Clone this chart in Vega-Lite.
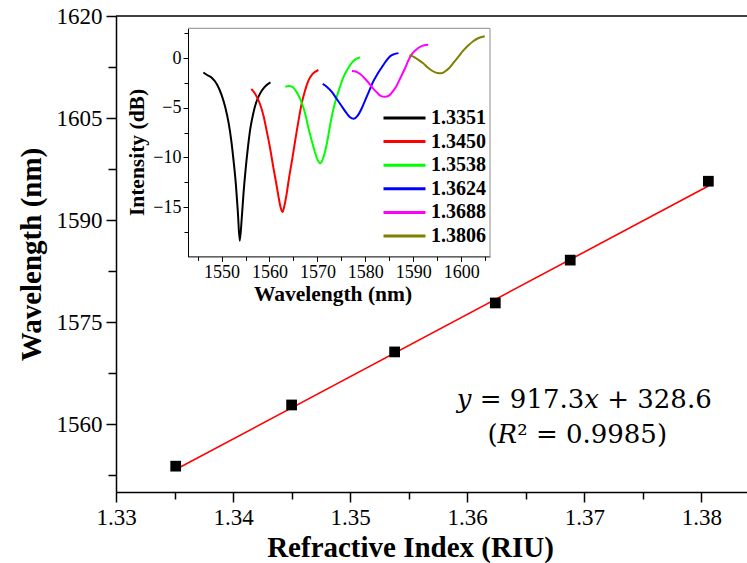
{
  "$schema": "https://vega.github.io/schema/vega-lite/v6.json",
  "width": 631,
  "height": 476,
  "autosize": {"type": "none"},
  "padding": {"left": 116, "top": 16, "right": 0, "bottom": 71},
  "background": "white",
  "config": {
    "view": {"stroke": null},
    "font": "Liberation Serif",
    "axis": {"labelFont": "Liberation Serif", "titleFont": "Liberation Serif"},
    "legend": {"labelFont": "Liberation Serif"}
  },
  "datasets": {
    "points": [
      {"n": 1.3351, "wl": 1553.8},
      {"n": 1.3450, "wl": 1562.8},
      {"n": 1.3538, "wl": 1570.6},
      {"n": 1.3624, "wl": 1577.8},
      {"n": 1.3688, "wl": 1584.1},
      {"n": 1.3806, "wl": 1595.7}
    ],
    "fit": [
      {"n": 1.3351, "wl": 1553.3},
      {"n": 1.3806, "wl": 1595.0}
    ],
    "spectra": [
      {"ri": "1.3351", "lam": 1546.2, "db": -1.45},
      {"ri": "1.3351", "lam": 1547.0, "db": -1.7},
      {"ri": "1.3351", "lam": 1548.0, "db": -2.0},
      {"ri": "1.3351", "lam": 1549.0, "db": -2.6},
      {"ri": "1.3351", "lam": 1550.0, "db": -3.7},
      {"ri": "1.3351", "lam": 1550.8, "db": -5.0},
      {"ri": "1.3351", "lam": 1551.5, "db": -6.6},
      {"ri": "1.3351", "lam": 1552.0, "db": -8.2},
      {"ri": "1.3351", "lam": 1552.5, "db": -10.3},
      {"ri": "1.3351", "lam": 1553.0, "db": -12.8},
      {"ri": "1.3351", "lam": 1553.4, "db": -15.5},
      {"ri": "1.3351", "lam": 1553.8, "db": -18.4},
      {"ri": "1.3351", "lam": 1554.2, "db": -16.2},
      {"ri": "1.3351", "lam": 1554.6, "db": -13.5},
      {"ri": "1.3351", "lam": 1555.0, "db": -11.3},
      {"ri": "1.3351", "lam": 1555.5, "db": -9.0},
      {"ri": "1.3351", "lam": 1556.0, "db": -7.1},
      {"ri": "1.3351", "lam": 1556.6, "db": -5.6},
      {"ri": "1.3351", "lam": 1557.2, "db": -4.5},
      {"ri": "1.3351", "lam": 1558.0, "db": -3.6},
      {"ri": "1.3351", "lam": 1559.0, "db": -2.9},
      {"ri": "1.3351", "lam": 1560.2, "db": -2.45},
      {"ri": "1.3450", "lam": 1556.2, "db": -3.1},
      {"ri": "1.3450", "lam": 1557.0, "db": -3.6},
      {"ri": "1.3450", "lam": 1558.0, "db": -4.6},
      {"ri": "1.3450", "lam": 1558.8, "db": -5.9},
      {"ri": "1.3450", "lam": 1559.4, "db": -7.3},
      {"ri": "1.3450", "lam": 1560.1, "db": -9.0},
      {"ri": "1.3450", "lam": 1560.8, "db": -11.0},
      {"ri": "1.3450", "lam": 1561.4, "db": -12.6},
      {"ri": "1.3450", "lam": 1561.9, "db": -14.0},
      {"ri": "1.3450", "lam": 1562.3, "db": -15.0},
      {"ri": "1.3450", "lam": 1562.7, "db": -15.5},
      {"ri": "1.3450", "lam": 1563.1, "db": -14.9},
      {"ri": "1.3450", "lam": 1563.6, "db": -13.6},
      {"ri": "1.3450", "lam": 1564.1, "db": -12.0},
      {"ri": "1.3450", "lam": 1564.7, "db": -10.3},
      {"ri": "1.3450", "lam": 1565.2, "db": -8.8},
      {"ri": "1.3450", "lam": 1565.7, "db": -7.3},
      {"ri": "1.3450", "lam": 1566.2, "db": -5.9},
      {"ri": "1.3450", "lam": 1566.7, "db": -4.6},
      {"ri": "1.3450", "lam": 1567.4, "db": -3.3},
      {"ri": "1.3450", "lam": 1568.1, "db": -2.3},
      {"ri": "1.3450", "lam": 1569.0, "db": -1.6},
      {"ri": "1.3450", "lam": 1570.2, "db": -1.2},
      {"ri": "1.3538", "lam": 1563.3, "db": -2.9},
      {"ri": "1.3538", "lam": 1564.0, "db": -2.8},
      {"ri": "1.3538", "lam": 1564.8, "db": -2.9},
      {"ri": "1.3538", "lam": 1565.5, "db": -3.3},
      {"ri": "1.3538", "lam": 1566.2, "db": -3.9},
      {"ri": "1.3538", "lam": 1566.8, "db": -4.6},
      {"ri": "1.3538", "lam": 1567.5, "db": -5.7},
      {"ri": "1.3538", "lam": 1568.1, "db": -7.0},
      {"ri": "1.3538", "lam": 1568.8, "db": -8.3},
      {"ri": "1.3538", "lam": 1569.5, "db": -9.5},
      {"ri": "1.3538", "lam": 1570.0, "db": -10.2},
      {"ri": "1.3538", "lam": 1570.6, "db": -10.6},
      {"ri": "1.3538", "lam": 1571.1, "db": -10.2},
      {"ri": "1.3538", "lam": 1571.6, "db": -9.4},
      {"ri": "1.3538", "lam": 1572.2, "db": -8.0},
      {"ri": "1.3538", "lam": 1572.7, "db": -6.6},
      {"ri": "1.3538", "lam": 1573.3, "db": -5.2},
      {"ri": "1.3538", "lam": 1574.0, "db": -3.95},
      {"ri": "1.3538", "lam": 1574.7, "db": -2.9},
      {"ri": "1.3538", "lam": 1575.4, "db": -1.95},
      {"ri": "1.3538", "lam": 1576.3, "db": -1.1},
      {"ri": "1.3538", "lam": 1577.2, "db": -0.45},
      {"ri": "1.3538", "lam": 1578.0, "db": -0.1},
      {"ri": "1.3538", "lam": 1578.9, "db": 0.05},
      {"ri": "1.3624", "lam": 1571.1, "db": -2.6},
      {"ri": "1.3624", "lam": 1572.0, "db": -2.9},
      {"ri": "1.3624", "lam": 1573.0, "db": -3.4},
      {"ri": "1.3624", "lam": 1574.0, "db": -4.1},
      {"ri": "1.3624", "lam": 1575.0, "db": -4.8},
      {"ri": "1.3624", "lam": 1576.0, "db": -5.5},
      {"ri": "1.3624", "lam": 1576.8, "db": -5.95},
      {"ri": "1.3624", "lam": 1577.6, "db": -6.1},
      {"ri": "1.3624", "lam": 1578.4, "db": -5.8},
      {"ri": "1.3624", "lam": 1579.2, "db": -5.1},
      {"ri": "1.3624", "lam": 1580.0, "db": -4.2},
      {"ri": "1.3624", "lam": 1580.8, "db": -3.3},
      {"ri": "1.3624", "lam": 1581.6, "db": -2.4},
      {"ri": "1.3624", "lam": 1582.4, "db": -1.7},
      {"ri": "1.3624", "lam": 1583.4, "db": -0.95},
      {"ri": "1.3624", "lam": 1584.3, "db": -0.3},
      {"ri": "1.3624", "lam": 1585.2, "db": 0.2},
      {"ri": "1.3624", "lam": 1586.0, "db": 0.4},
      {"ri": "1.3624", "lam": 1586.9, "db": 0.5},
      {"ri": "1.3688", "lam": 1577.2, "db": -1.3},
      {"ri": "1.3688", "lam": 1578.0, "db": -1.35},
      {"ri": "1.3688", "lam": 1578.9, "db": -1.6},
      {"ri": "1.3688", "lam": 1579.8, "db": -2.0},
      {"ri": "1.3688", "lam": 1580.7, "db": -2.5},
      {"ri": "1.3688", "lam": 1581.5, "db": -3.0},
      {"ri": "1.3688", "lam": 1582.4, "db": -3.45},
      {"ri": "1.3688", "lam": 1583.2, "db": -3.8},
      {"ri": "1.3688", "lam": 1584.1, "db": -3.9},
      {"ri": "1.3688", "lam": 1585.0, "db": -3.75},
      {"ri": "1.3688", "lam": 1585.8, "db": -3.3},
      {"ri": "1.3688", "lam": 1586.5, "db": -2.8},
      {"ri": "1.3688", "lam": 1587.3, "db": -2.0},
      {"ri": "1.3688", "lam": 1588.3, "db": -1.0},
      {"ri": "1.3688", "lam": 1589.0, "db": -0.2},
      {"ri": "1.3688", "lam": 1589.7, "db": 0.4},
      {"ri": "1.3688", "lam": 1590.6, "db": 0.85},
      {"ri": "1.3688", "lam": 1591.5, "db": 1.15},
      {"ri": "1.3688", "lam": 1592.3, "db": 1.3},
      {"ri": "1.3688", "lam": 1593.1, "db": 1.35},
      {"ri": "1.3806", "lam": 1589.2, "db": 0.3},
      {"ri": "1.3806", "lam": 1590.0, "db": 0.15},
      {"ri": "1.3806", "lam": 1591.0, "db": -0.15},
      {"ri": "1.3806", "lam": 1592.0, "db": -0.5},
      {"ri": "1.3806", "lam": 1593.0, "db": -0.95},
      {"ri": "1.3806", "lam": 1594.0, "db": -1.3},
      {"ri": "1.3806", "lam": 1595.0, "db": -1.5},
      {"ri": "1.3806", "lam": 1595.8, "db": -1.52},
      {"ri": "1.3806", "lam": 1596.6, "db": -1.35},
      {"ri": "1.3806", "lam": 1597.5, "db": -1.0},
      {"ri": "1.3806", "lam": 1598.5, "db": -0.4},
      {"ri": "1.3806", "lam": 1599.5, "db": 0.2},
      {"ri": "1.3806", "lam": 1600.5, "db": 0.8},
      {"ri": "1.3806", "lam": 1601.5, "db": 1.3},
      {"ri": "1.3806", "lam": 1602.5, "db": 1.7},
      {"ri": "1.3806", "lam": 1603.5, "db": 2.0},
      {"ri": "1.3806", "lam": 1604.9, "db": 2.2}
    ]
  },
  "layer": [
    {
      "layer": [
        {
          "data": {"name": "fit"},
          "mark": {"type": "line", "color": "#ff0000", "strokeWidth": 1.6},
          "encoding": {
            "x": {
              "field": "n", "type": "quantitative",
              "scale": {"domain": [1.33, 1.3839], "nice": false, "zero": false},
              "axis": {
                "orient": "bottom",
                "title": "Refractive Index (RIU)",
                "values": [1.33, 1.335, 1.34, 1.345, 1.35, 1.355, 1.36, 1.365, 1.37, 1.375, 1.38],
                "format": ".2f",
                "labelExpr": "round(datum.value*1000) % 10 === 0 ? datum.label : ''",
                "labelFont": "Liberation Serif", "labelFontSize": 23, "labelColor": "black",
                "labelPadding": 4, "labelFlush": false, "labelOverlap": false,
                "tickSize": {"condition": {"test": "round(datum.value*1000) % 10 === 0", "value": 10}, "value": 7},
                "tickColor": "black", "tickWidth": 1.5,
                "domainColor": "black", "domainWidth": 1.5,
                "grid": false,
                "titleFont": "Liberation Serif", "titleFontSize": 29, "titleFontWeight": "bold", "titleColor": "black",
                "titleX": 294, "titlePadding": 4
              }
            },
            "y": {
              "field": "wl", "type": "quantitative",
              "scale": {"domain": [1550, 1620], "nice": false, "zero": false},
              "axis": {
                "orient": "left",
                "title": "Wavelength (nm)",
                "values": [1552.5, 1560, 1567.5, 1575, 1582.5, 1590, 1597.5, 1605, 1612.5, 1620],
                "format": "d",
                "labelExpr": "datum.value % 15 === 0 ? datum.label : ''",
                "labelFont": "Liberation Serif", "labelFontSize": 23, "labelColor": "black",
                "labelPadding": 4, "labelFlush": false, "labelOverlap": false,
                "tickSize": {"condition": {"test": "datum.value % 15 === 0", "value": 10}, "value": 8},
                "tickColor": "black", "tickWidth": 1.5,
                "domainColor": "black", "domainWidth": 1.5,
                "grid": false,
                "titleFont": "Liberation Serif", "titleFontSize": 29, "titleFontWeight": "bold", "titleColor": "black",
                "titlePadding": 10
              }
            }
          }
        },
        {
          "data": {"name": "points"},
          "mark": {"type": "point", "shape": "square", "filled": true, "color": "black", "size": 115, "opacity": 1},
          "encoding": {
            "x": {"field": "n", "type": "quantitative"},
            "y": {"field": "wl", "type": "quantitative"}
          }
        },
        {
          "data": {"values": [{}]},
          "mark": {"type": "rule", "color": "black", "strokeWidth": 1.5},
          "encoding": {
            "x": {"datum": 1.33},
            "x2": {"datum": 1.3839},
            "y": {"datum": 1620}
          }
        },
        {
          "data": {"values": [{}]},
          "mark": {"type": "text", "font": "DejaVu Serif", "fontSize": 26, "color": "black", "align": "center", "baseline": "alphabetic"},
          "encoding": {
            "x": {"datum": 1.370},
            "y": {"datum": 1562.4},
            "text": {"value": "𝑦 = 917.3𝑥 + 328.6"}
          }
        },
        {
          "data": {"values": [{}]},
          "mark": {"type": "text", "font": "DejaVu Serif", "fontSize": 26, "color": "black", "align": "center", "baseline": "alphabetic"},
          "encoding": {
            "x": {"datum": 1.3694},
            "y": {"datum": 1557.2},
            "text": {"value": "(𝑅² = 0.9985)"}
          }
        }
      ]
    },
    {
      "layer": [
        {
          "data": {"name": "spectra"},
          "mark": {"type": "line", "strokeWidth": 2, "interpolate": "monotone"},
          "encoding": {
            "x": {
              "field": "lam", "type": "quantitative",
              "scale": {"domain": [1543, 1606], "range": [72, 374], "nice": false, "zero": false},
              "axis": {
                "orient": "bottom", "offset": -235.6,
                "title": "Wavelength (nm)",
                "values": [1545, 1550, 1555, 1560, 1565, 1570, 1575, 1580, 1585, 1590, 1595, 1600, 1605],
                "format": "d",
                "labelExpr": "datum.value % 10 === 0 ? datum.label : ''",
                "labelFont": "Liberation Serif", "labelFontSize": 18, "labelColor": "black",
                "labelPadding": 2, "labelFlush": false, "labelOverlap": false,
                "tickSize": {"condition": {"test": "datum.value % 10 === 0", "value": 5}, "value": 4},
                "tickColor": "black", "tickWidth": 1,
                "domainColor": "black", "domainWidth": 1,
                "grid": false,
                "titleFont": "Liberation Serif", "titleFontSize": 21.5, "titleFontWeight": "bold", "titleColor": "black",
                "titleX": 216.5, "titlePadding": 2
              }
            },
            "y": {
              "field": "db", "type": "quantitative",
              "scale": {"domain": [-20, 3], "range": [240.7, 12.3], "nice": false, "zero": false},
              "axis": {
                "orient": "left", "offset": -72,
                "title": "Intensity (dB)",
                "values": [-17.5, -15, -12.5, -10, -7.5, -5, -2.5, 0, 2.5],
                "format": "d",
                "labelExpr": "datum.value % 5 === 0 ? datum.label : ''",
                "labelFont": "Liberation Serif", "labelFontSize": 18, "labelColor": "black",
                "labelPadding": 2, "labelFlush": false, "labelOverlap": false,
                "tickSize": {"condition": {"test": "datum.value % 5 === 0", "value": 5}, "value": 4},
                "tickColor": "black", "tickWidth": 1,
                "domainColor": "black", "domainWidth": 1,
                "grid": false,
                "titleFont": "Liberation Serif", "titleFontSize": 21.5, "titleFontWeight": "bold", "titleColor": "black",
                "titleY": 136, "titlePadding": 4
              }
            },
            "color": {
              "field": "ri", "type": "nominal",
              "scale": {
                "domain": ["1.3351", "1.3450", "1.3538", "1.3624", "1.3688", "1.3806"],
                "range": ["#000000", "#ff0000", "#00ff00", "#0000ff", "#ff00ff", "#808000"]
              },
              "legend": {
                "orient": "none", "legendX": 278.5, "legendY": 92,
                "title": null,
                "symbolType": "M-4.2,0H4.2", "symbolSize": 100, "symbolStrokeWidth": 3,
                "labelFont": "Liberation Serif", "labelFontSize": 20, "labelFontWeight": "bold", "labelColor": "black",
                "labelOffset": 16.5, "rowPadding": 3.6, "padding": 0
              }
            }
          }
        },
        {
          "data": {"values": [{}]},
          "mark": {"type": "rule", "color": "#a0a0a0", "strokeWidth": 1.2},
          "encoding": {
            "x": {"datum": 1543},
            "x2": {"datum": 1606},
            "y": {"datum": 3}
          }
        },
        {
          "data": {"values": [{}]},
          "mark": {"type": "rule", "color": "#a0a0a0", "strokeWidth": 1.2},
          "encoding": {
            "x": {"datum": 1606},
            "y": {"datum": -20},
            "y2": {"datum": 3}
          }
        }
      ]
    }
  ],
  "resolve": {
    "scale": {"x": "independent", "y": "independent", "color": "independent"},
    "axis": {"x": "independent", "y": "independent"}
  }
}
